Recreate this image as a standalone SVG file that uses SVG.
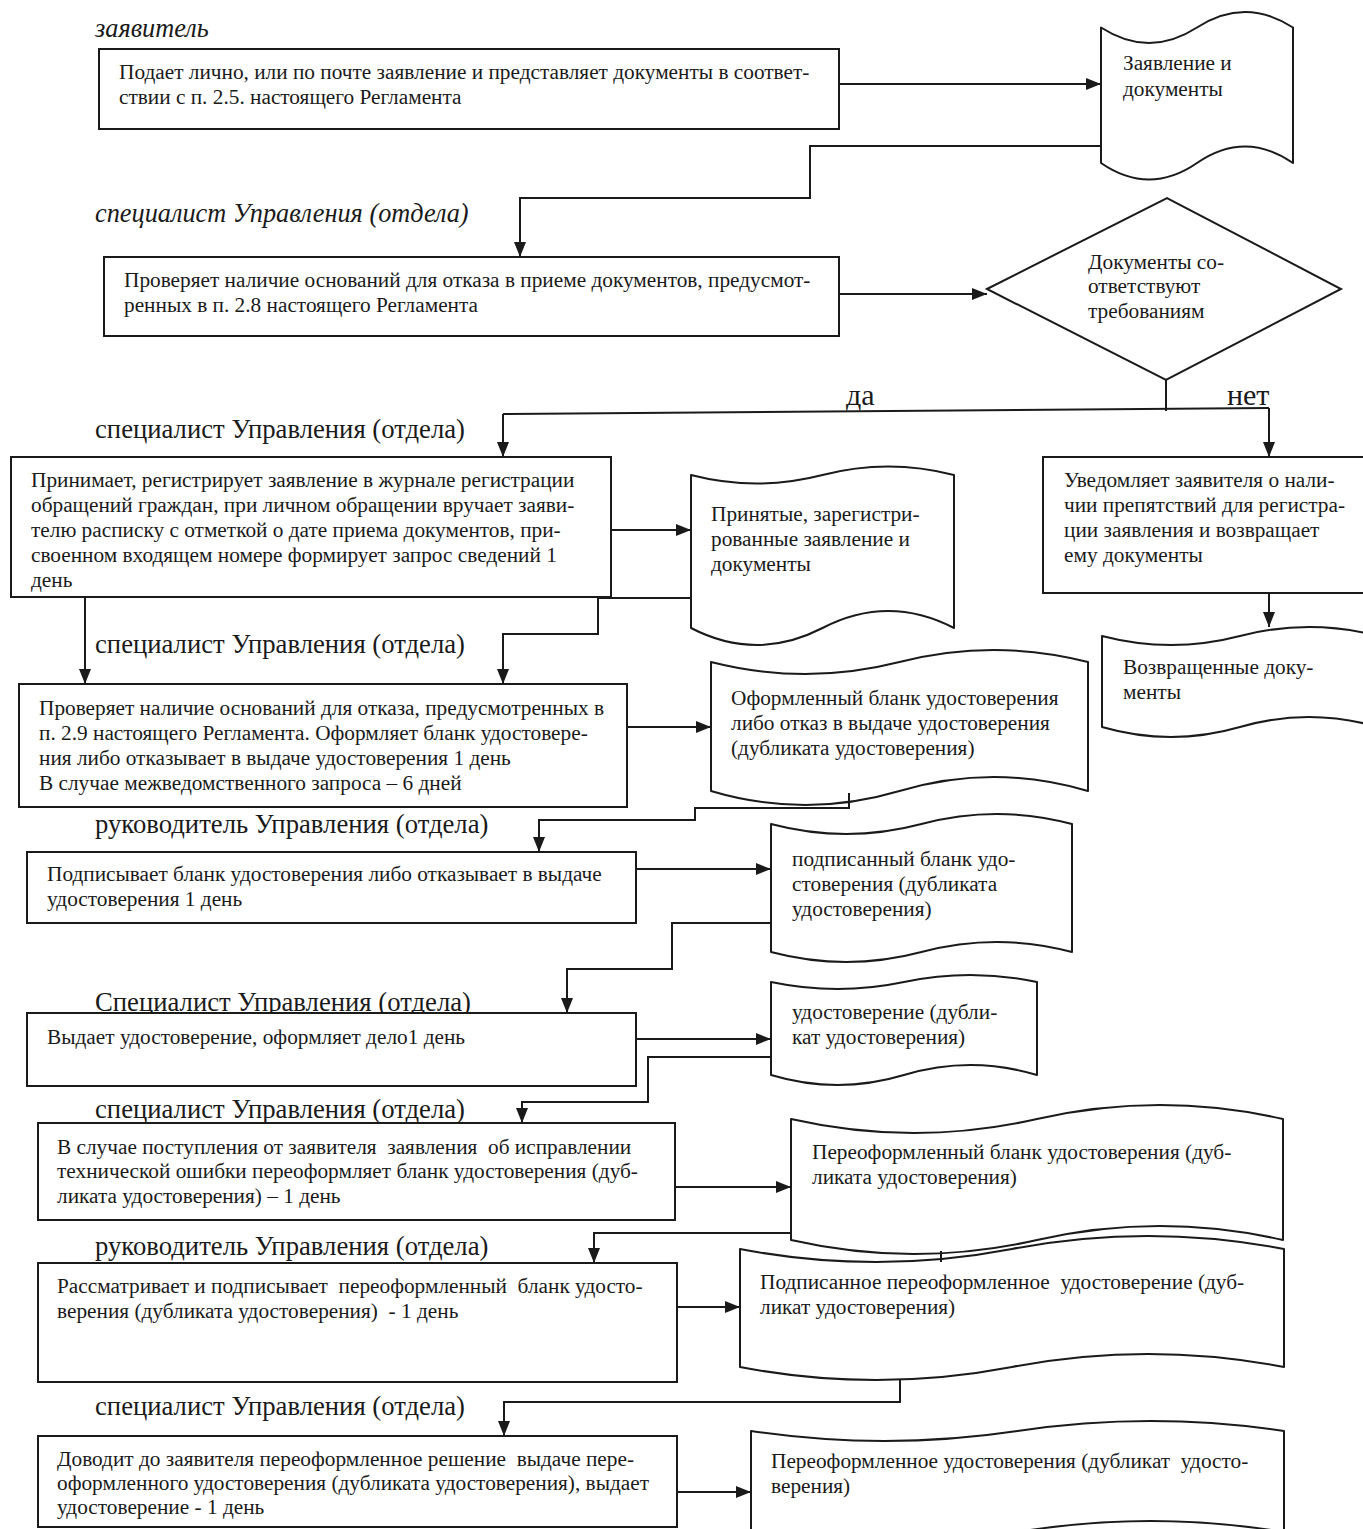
<svg xmlns="http://www.w3.org/2000/svg" width="1363" height="1529" viewBox="0 0 1363 1529">
<style>
.bx{fill:#fff;stroke:#1a1a1a;stroke-width:2}
.dc{fill:none;stroke:#1a1a1a;stroke-width:2;stroke-linejoin:round}
.cn{fill:none;stroke:#1a1a1a;stroke-width:2}
.t{font-family:"Liberation Serif","Times New Roman",serif;font-size:21.3px;fill:#1a1a1a}
.lb{font-family:"Liberation Serif","Times New Roman",serif;font-size:26.7px;fill:#1a1a1a}
.it{font-style:italic;font-size:26.3px}
.yn{font-family:"Liberation Serif","Times New Roman",serif;font-size:30px;fill:#1a1a1a}
</style>
<defs>
<marker id="ah" viewBox="0 0 15 12" refX="15" refY="6" markerWidth="15" markerHeight="12" orient="auto" markerUnits="userSpaceOnUse">
<path d="M0,0 L15,6 L0,12 Z" fill="#1a1a1a"/>
</marker>
</defs>
<rect width="1363" height="1529" fill="#fff"/>

<g id="labels">
<text class="lb it" x="95" y="37">заявитель</text>
<text class="lb it" x="95" y="222">специалист Управления (отдела)</text>
<text class="lb" x="95" y="438">специалист Управления (отдела)</text>
<text class="lb" x="95" y="653">специалист Управления (отдела)</text>
<text class="lb" x="95" y="833">руководитель Управления (отдела)</text>
<text class="lb" x="95" y="1011">Специалист Управления (отдела)</text>
<text class="lb" x="95" y="1118">специалист Управления (отдела)</text>
<text class="lb" x="95" y="1255">руководитель Управления (отдела)</text>
<text class="lb" x="95" y="1415">специалист Управления (отдела)</text>
<text class="yn" x="846" y="405">да</text>
<text class="yn" x="1227" y="405">нет</text>
</g>

<g id="connectors">
<path class="cn" d="M839,84 H1101" marker-end="url(#ah)"/>
<path class="cn" d="M1101,146 H810 V198 H520 V257" marker-end="url(#ah)"/>
<path class="cn" d="M839,294 H987" marker-end="url(#ah)"/>
<path class="cn" d="M1166,380 V411"/>
<path class="cn" d="M503,414 L1269,408"/>
<path class="cn" d="M503,414 V457" marker-end="url(#ah)"/>
<path class="cn" d="M1269,408 V457" marker-end="url(#ah)"/>
<path class="cn" d="M611,530 H691" marker-end="url(#ah)"/>
<path class="cn" d="M1269,593 V627" marker-end="url(#ah)"/>
<path class="cn" d="M691,598 H598 V634 H503 V684" marker-end="url(#ah)"/>
<path class="cn" d="M85,598 V684" marker-end="url(#ah)"/>
<path class="cn" d="M627,727 H711" marker-end="url(#ah)"/>
<path class="cn" d="M849,793 V808 H695 V820 H539 V852" marker-end="url(#ah)"/>
<path class="cn" d="M636,869 H771" marker-end="url(#ah)"/>
<path class="cn" d="M771,923 H672 V969 H567 V1013" marker-end="url(#ah)"/>
<path class="cn" d="M636,1039 H771" marker-end="url(#ah)"/>
<path class="cn" d="M771,1057 H648 V1102 H522 V1123" marker-end="url(#ah)"/>
<path class="cn" d="M675,1187 H791" marker-end="url(#ah)"/>
<path class="cn" d="M791,1233 H594 V1263" marker-end="url(#ah)"/>
<path class="cn" d="M941,1251 V1262"/>
<path class="cn" d="M677,1307 H740" marker-end="url(#ah)"/>
<path class="cn" d="M900,1380 V1402 H504 V1436" marker-end="url(#ah)"/>
<path class="cn" d="M677,1492 H751" marker-end="url(#ah)"/>
</g>

<g id="box1">
<rect class="bx" x="99" y="49" width="740" height="80"/>
<text class="t" x="119" y="79">Подает лично, или по почте заявление и представляет документы в соответ-</text>
<text class="t" x="119" y="104">ствии с п. 2.5. настоящего Регламента</text>
</g>
<g id="doc1">
<path class="dc" d="M1101,27.5 Q1149,58.5 1197,27.5 T1293,27.5 L1293,163 Q1245,130 1197,163 T1101,163 Z"/>
<text class="t" x="1123" y="70">Заявление и</text>
<text class="t" x="1123" y="96">документы</text>
</g>
<g id="box2">
<rect class="bx" x="104" y="257" width="735" height="79"/>
<text class="t" x="124" y="287">Проверяет наличие оснований для отказа в приеме документов, предусмот-</text>
<text class="t" x="124" y="312">ренных в п. 2.8 настоящего Регламента</text>
</g>
<g id="decision">
<path class="bx" d="M987,289 L1167,198 L1341,289 L1166,380 Z"/>
<text class="t" x="1088" y="269">Документы со-</text>
<text class="t" x="1088" y="293">ответствуют</text>
<text class="t" x="1088" y="318">требованиям</text>
</g>
<g id="box3">
<rect class="bx" x="11" y="457" width="600" height="140"/>
<text class="t" x="31" y="487">Принимает, регистрирует заявление в журнале регистрации</text>
<text class="t" x="31" y="512">обращений граждан, при личном обращении вручает заяви-</text>
<text class="t" x="31" y="537">телю расписку с отметкой о дате приема документов, при-</text>
<text class="t" x="31" y="562">своенном входящем номере формирует запрос сведений 1</text>
<text class="t" x="31" y="587">день</text>
</g>
<g id="doc2">
<path class="dc" d="M691,475 Q756.75,492 822.5,475 T954,475 L954,628 Q888.25,594 822.5,628 T691,628 Z"/>
<text class="t" x="711" y="521">Принятые, зарегистри-</text>
<text class="t" x="711" y="546">рованные заявление и</text>
<text class="t" x="711" y="571">документы</text>
</g>
<g id="box-refuse">
<rect class="bx" x="1043" y="457" width="330" height="136"/>
<text class="t" x="1064" y="487">Уведомляет заявителя о нали-</text>
<text class="t" x="1064" y="512">чии препятствий для регистра-</text>
<text class="t" x="1064" y="537">ции заявления и возвращает</text>
<text class="t" x="1064" y="562">ему документы</text>
</g>
<g id="doc3">
<path class="dc" d="M1102,636 Q1171,654 1240,636 T1378,636 L1378,727 Q1309,707 1240,727 T1102,727 Z"/>
<text class="t" x="1123" y="674">Возвращенные доку-</text>
<text class="t" x="1123" y="699">менты</text>
</g>
<g id="box4">
<rect class="bx" x="19" y="684" width="608" height="123"/>
<text class="t" x="39" y="715">Проверяет наличие оснований для отказа, предусмотренных в</text>
<text class="t" x="39" y="740">п. 2.9 настоящего Регламента. Оформляет бланк удостовере-</text>
<text class="t" x="39" y="765">ния либо отказывает в выдаче удостоверения 1 день</text>
<text class="t" x="39" y="790">В случае межведомственного запроса – 6 дней</text>
</g>
<g id="doc4">
<path class="dc" d="M711,662 Q805.25,686 899.5,662 T1088,662 L1088,791 Q993.75,763 899.5,791 T711,791 Z"/>
<text class="t" x="731" y="705">Оформленный бланк удостоверения</text>
<text class="t" x="731" y="730">либо отказ в выдаче удостоверения</text>
<text class="t" x="731" y="755">(дубликата удостоверения)</text>
</g>
<g id="box5">
<rect class="bx" x="27" y="852" width="609" height="71"/>
<text class="t" x="47" y="881">Подписывает бланк удостоверения либо отказывает в выдаче</text>
<text class="t" x="47" y="906">удостоверения 1 день</text>
</g>
<g id="doc5">
<path class="dc" d="M771,824 Q846.25,844 921.5,824 T1072,824 L1072,952 Q996.75,932 921.5,952 T771,952 Z"/>
<text class="t" x="792" y="866">подписанный бланк удо-</text>
<text class="t" x="792" y="891">стоверения (дубликата</text>
<text class="t" x="792" y="916">удостоверения)</text>
</g>
<g id="box6">
<rect class="bx" x="27" y="1013" width="609" height="73"/>
<text class="t" x="47" y="1044">Выдает удостоверение, оформляет дело1 день</text>
</g>
<g id="doc6">
<path class="dc" d="M771,982 Q837.5,996 904,982 T1037,982 L1037,1075 Q970.5,1055 904,1075 T771,1075 Z"/>
<text class="t" x="792" y="1019">удостоверение (дубли-</text>
<text class="t" x="792" y="1044">кат удостоверения)</text>
</g>
<g id="box7">
<rect class="bx" x="38" y="1123" width="637" height="97"/>
<text class="t" x="57" y="1154" xml:space="preserve">В случае поступления от заявителя  заявления  об исправлении</text>
<text class="t" x="57" y="1178">технической ошибки переоформляет бланк удостоверения (дуб-</text>
<text class="t" x="57" y="1203">ликата удостоверения) – 1 день</text>
</g>
<g id="doc7">
<path class="dc" d="M791,1119 Q914,1147 1037,1119 T1283,1119 L1283,1240 Q1160,1212 1037,1240 T791,1240 Z"/>
<text class="t" x="812" y="1159">Переоформленный бланк удостоверения (дуб-</text>
<text class="t" x="812" y="1184">ликата удостоверения)</text>
</g>
<g id="box8">
<rect class="bx" x="38" y="1263" width="639" height="119"/>
<text class="t" x="57" y="1293" xml:space="preserve">Рассматривает и подписывает  переоформленный  бланк удосто-</text>
<text class="t" x="57" y="1318" xml:space="preserve">верения (дубликата удостоверения)  - 1 день</text>
</g>
<g id="doc8">
<path class="dc" d="M740,1249 Q876,1275 1012,1249 T1284,1249 L1284,1367 Q1148,1341 1012,1367 T740,1367 Z"/>
<text class="t" x="760" y="1289" xml:space="preserve">Подписанное переоформленное  удостоверение (дуб-</text>
<text class="t" x="760" y="1314">ликат удостоверения)</text>
</g>
<g id="box9">
<rect class="bx" x="38" y="1436" width="639" height="91"/>
<text class="t" x="57" y="1466" xml:space="preserve">Доводит до заявителя переоформленное решение  выдаче пере-</text>
<text class="t" x="57" y="1490">оформленного удостоверения (дубликата удостоверения), выдает</text>
<text class="t" x="57" y="1514">удостоверение - 1 день</text>
</g>
<g id="doc9">
<path class="dc" d="M751,1431 Q884.25,1451 1017.5,1431 T1284,1431 L1284,1532 Q1150.75,1510 1017.5,1532 T751,1532 Z"/>
<text class="t" x="771" y="1468" xml:space="preserve">Переоформленное удостоверения (дубликат  удосто-</text>
<text class="t" x="771" y="1493">верения)</text>
</g>
</svg>
